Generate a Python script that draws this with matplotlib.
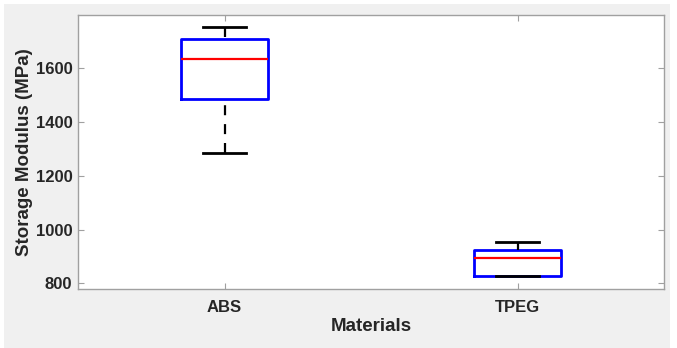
import matplotlib.pyplot as plt
from matplotlib.patches import Rectangle

plt.rcParams['font.family'] = ['Liberation Sans', 'DejaVu Sans']

materials = ["ABS", "TPEG"]
# box statistics (MPa)
medians = [1633, 893]
q1 = [1487, 827]
q3 = [1708, 923]
whisker_lo = [1284, 826]
whisker_hi = [1753, 954]

stats = []
for i, name in enumerate(materials):
    stats.append({"label": name, "med": medians[i], "q1": q1[i], "q3": q3[i],
                  "whislo": whisker_lo[i], "whishi": whisker_hi[i], "fliers": []})

fig = plt.figure(figsize=(6.77, 3.48), dpi=100)
fig.patch.set_facecolor("white")
fig.patches.append(Rectangle((4 / 677, 0), 666 / 677, 344 / 348, transform=fig.transFigure,
                             facecolor="#f0f0f0", edgecolor="none", zorder=-10))
ax = fig.add_axes([78 / 677, (348 - 289) / 348, 586 / 677, 274 / 348])

parts = ax.bxp(stats, positions=[1, 2], widths=0.3, showfliers=False,
               boxprops=dict(color="#0000ff", linewidth=2),
               medianprops=dict(color="#ff0000", linewidth=1.6),
               whiskerprops=dict(color="black", linewidth=1.6, linestyle=(0, (4.5, 4))),
               capprops=dict(color="black", linewidth=2),
               capwidths=0.15)
# draw whiskers from the cap toward the box so the dashes start at the cap
for w in parts["whiskers"]:
    x, y = w.get_data()
    w.set_data(list(x)[::-1], list(y)[::-1])

ax.set_xlim(0.5, 2.5)
ax.set_ylim(779, 1798)
ax.set_yticks([800, 1000, 1200, 1400, 1600])
ax.set_xticks([1, 2])
ax.set_xticklabels(materials)
ax.tick_params(direction="in", length=4, color="#a0a0a0", top=True, right=True,
               labelsize=12, pad=4)
ax.tick_params(axis="x", pad=8)
for lab in ax.get_xticklabels() + ax.get_yticklabels():
    lab.set_fontweight("bold")
    lab.set_color("#262626")
for sp in ax.spines.values():
    sp.set_color("#a0a0a0")
    sp.set_linewidth(1)

ax.set_xlabel("Materials", fontsize=13.5, fontweight="bold", color="#262626", labelpad=2)
ax.set_ylabel("Storage Modulus (MPa)", fontsize=13.5, fontweight="bold", color="#262626", labelpad=2)

fig.savefig("out.png", dpi=100, facecolor=fig.get_facecolor())
